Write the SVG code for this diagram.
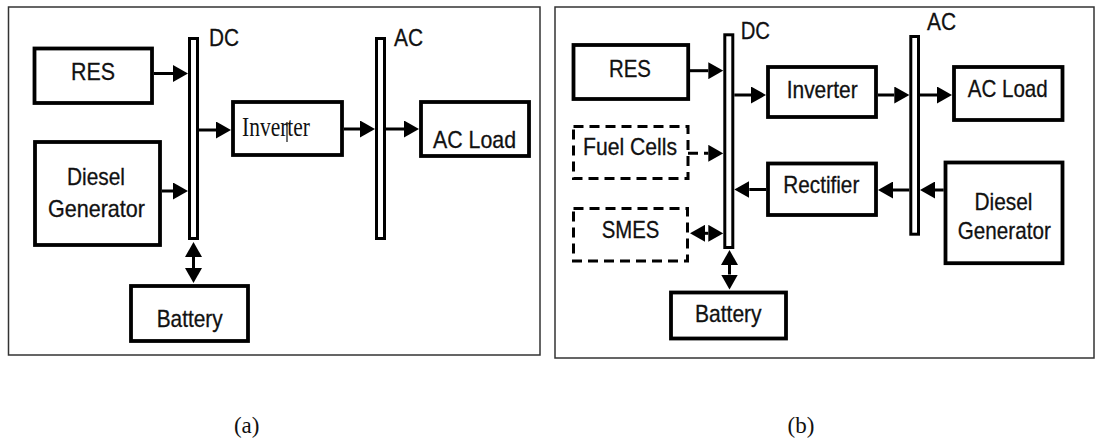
<svg xmlns="http://www.w3.org/2000/svg" width="1096" height="441" viewBox="0 0 1096 441">
<style>
.panel{fill:none;stroke:#333;stroke-width:1.5}
.box{fill:#fff;stroke:#000;stroke-width:3.8}
.dbox{fill:#fff;stroke:#000;stroke-width:3;stroke-dasharray:10 6}
.bus{fill:#fff;stroke:#000;stroke-width:3}
.c{fill:none;stroke:#000;stroke-width:3}
.cd{fill:none;stroke:#000;stroke-width:3;stroke-dasharray:10 6}
.t{font-family:"Liberation Sans",Arial,sans-serif;font-size:24px;fill:#111;stroke:#111;stroke-width:0.3;text-anchor:middle}
.ts{font-family:"Liberation Serif","Times New Roman",serif;fill:#111}
</style>
<defs>
<marker id="ah" viewBox="0 0 15 17" refX="0" refY="8.5" markerWidth="15" markerHeight="17" markerUnits="userSpaceOnUse" orient="auto-start-reverse">
<path d="M0,0 L15,8.5 L0,17 Z" fill="#000"/>
</marker>
</defs>

<rect class="panel" x="8.5" y="7" width="531.5" height="348"/>
<rect class="panel" x="555" y="7" width="539" height="351"/>

<g id="connectors">
<path class="c" d="M154 73.5 H173" marker-end="url(#ah)"/>
<path class="c" d="M162 191 H173" marker-end="url(#ah)"/>
<path class="c" d="M199 130 H216" marker-end="url(#ah)"/>
<path class="c" d="M344 129 H360" marker-end="url(#ah)"/>
<path class="c" d="M386 129 H404" marker-end="url(#ah)"/>
<path class="c" d="M193.5 257 V268" marker-start="url(#ah)" marker-end="url(#ah)"/>

<path class="c" d="M690 70.7 H708.3" marker-end="url(#ah)"/>
<path class="cd" d="M688 153.3 H708.3" marker-end="url(#ah)"/>
<path class="c" d="M705 233.3 H708.3" marker-start="url(#ah)" marker-end="url(#ah)"/>
<path class="c" d="M734.3 95 H751" marker-end="url(#ah)"/>
<path class="c" d="M878 95 H894.3" marker-end="url(#ah)"/>
<path class="c" d="M920 95 H937" marker-end="url(#ah)"/>
<path class="c" d="M943.7 190 H935" marker-end="url(#ah)"/>
<path class="c" d="M909.3 190 H893" marker-end="url(#ah)"/>
<path class="c" d="M766 189.5 H749.3" marker-end="url(#ah)"/>
<path class="c" d="M729.5 265 V274.5" marker-start="url(#ah)" marker-end="url(#ah)"/>
</g>

<g id="a-res"><rect class="box" x="34.5" y="48.5" width="117.5" height="54.5"/><text class="t" x="93" y="80" textLength="44" lengthAdjust="spacingAndGlyphs">RES</text></g>
<g id="a-diesel"><rect class="box" x="35" y="142" width="125" height="103"/><text class="t" x="96" y="185" textLength="58" lengthAdjust="spacingAndGlyphs">Diesel</text><text class="t" x="96.5" y="216.7" textLength="97" lengthAdjust="spacingAndGlyphs">Generator</text></g>
<g id="a-dcbus"><rect class="bus" x="189.5" y="38.5" width="8" height="200"/><text class="t" x="224" y="45.7" textLength="30" lengthAdjust="spacingAndGlyphs">DC</text></g>
<g id="a-inverter"><rect class="box" x="233" y="102" width="109" height="53"/><text class="ts" x="242" y="136" font-size="27" textLength="68" lengthAdjust="spacingAndGlyphs">Inverter</text><line x1="287" y1="122" x2="287" y2="142" stroke="#111" stroke-width="1.2"/></g>
<g id="a-acbus"><rect class="bus" x="376.5" y="38.5" width="8" height="200"/><text class="t" x="408.5" y="45.7" textLength="29" lengthAdjust="spacingAndGlyphs">AC</text></g>
<g id="a-acload"><rect class="box" x="421" y="102" width="108" height="54"/><text class="t" x="474.5" y="148.3" textLength="83" lengthAdjust="spacingAndGlyphs">AC Load</text></g>
<g id="a-battery"><rect class="box" x="131" y="286" width="117" height="55"/><text class="t" x="189.7" y="326.5" textLength="66" lengthAdjust="spacingAndGlyphs">Battery</text></g>

<g id="b-res"><rect class="box" x="573.5" y="45" width="114.7" height="54"/><text class="t" x="630" y="76.7" textLength="42" lengthAdjust="spacingAndGlyphs">RES</text></g>
<g id="b-fuelcells"><rect class="dbox" x="573.5" y="126.5" width="114.5" height="52"/><text class="t" x="630" y="155" textLength="94" lengthAdjust="spacingAndGlyphs">Fuel Cells</text></g>
<g id="b-smes"><rect class="dbox" x="573.5" y="208.5" width="114" height="52.5"/><text class="t" x="630.5" y="238" textLength="57.6" lengthAdjust="spacingAndGlyphs">SMES</text></g>
<g id="b-dcbus"><rect class="bus" x="724.8" y="34.8" width="8" height="212.7"/><text class="t" x="755.3" y="39" textLength="29.3" lengthAdjust="spacingAndGlyphs">DC</text></g>
<g id="b-inverter"><rect class="box" x="768" y="67" width="108" height="50"/><text class="t" x="822.2" y="97.7" textLength="71" lengthAdjust="spacingAndGlyphs">Inverter</text></g>
<g id="b-rectifier"><rect class="box" x="768" y="163.5" width="108" height="51.5"/><text class="t" x="821.3" y="193.3" textLength="76" lengthAdjust="spacingAndGlyphs">Rectifier</text></g>
<g id="b-acbus"><rect class="bus" x="910.8" y="36.5" width="7.7" height="197.7"/><text class="t" x="941.5" y="30" textLength="29" lengthAdjust="spacingAndGlyphs">AC</text></g>
<g id="b-acload"><rect class="box" x="954" y="67" width="108.5" height="53"/><text class="t" x="1007.7" y="97.3" textLength="80" lengthAdjust="spacingAndGlyphs">AC Load</text></g>
<g id="b-diesel"><rect class="box" x="945.5" y="162.5" width="117" height="100.7"/><text class="t" x="1003.5" y="210" textLength="58" lengthAdjust="spacingAndGlyphs">Diesel</text><text class="t" x="1004.3" y="238.5" textLength="93" lengthAdjust="spacingAndGlyphs">Generator</text></g>
<g id="b-battery"><rect class="box" x="671" y="292.5" width="115" height="46"/><text class="t" x="728.3" y="321.7" textLength="66.7" lengthAdjust="spacingAndGlyphs">Battery</text></g>

<text class="ts" x="246.7" y="433" font-size="23" text-anchor="middle">(a)</text>
<text class="ts" x="801" y="433" font-size="23" text-anchor="middle">(b)</text>
</svg>
